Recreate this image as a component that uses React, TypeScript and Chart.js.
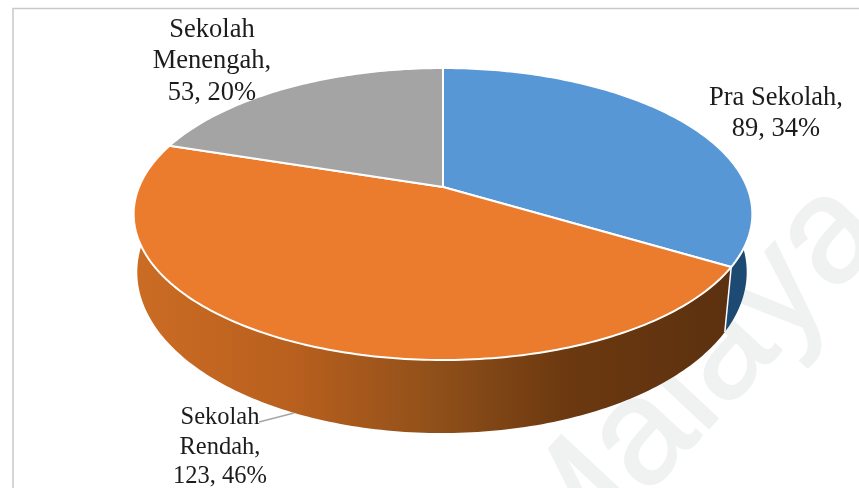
import React, { useEffect, useRef } from "react";
import { Chart, registerables } from "chart.js";

Chart.register(...registerables);

const categories = ["Pra Sekolah", "Sekolah Rendah", "Sekolah Menengah"];
const values = [89, 123, 53];
const faceColors = ["#5797d6", "#eb7c2e", "#a4a4a4"];
const labelLines = [["Pra Sekolah,"], ["Sekolah", "Rendah,"], ["Sekolah", "Menengah,"]];

// Projection of the unit disc onto the screen for the top and underside of the pie.
type Disc = { cx: number; apexY: number; b: number; a: number; k: number };
const topDisc: Disc = { cx: 443, apexY: 187, b: 304, a: 141, k: 0.185 };
const baseDisc: Disc = { cx: 442, apexY: 244, b: 300, a: 156, k: 0.175 };

const project = (d: Disc, angle: number): [number, number] => {
  const x = Math.cos(angle);
  const y = Math.sin(angle);
  const w = 1 - d.k * y;
  return [d.cx + (d.b * x) / w, d.apexY + (d.a * y) / w];
};

const traceArc = (ctx: CanvasRenderingContext2D, d: Disc, from: number, to: number) => {
  const steps = Math.max(8, Math.ceil(Math.abs(to - from) * 60));
  for (let i = 0; i <= steps; i++) {
    const [x, y] = project(d, from + ((to - from) * i) / steps);
    ctx.lineTo(x, y);
  }
};

const pie3d = {
  id: "pie3d",
  beforeDatasetsDraw(chart: Chart) {
    const ctx = chart.ctx;
    const arcs = chart.getDatasetMeta(0).data as any[];
    const total = values.reduce((s, v) => s + v, 0);

    // Watermark behind the chart
    ctx.save();
    ctx.translate(560, 588);
    ctx.rotate((-47 * Math.PI) / 180);
    ctx.font = '150px "Liberation Sans"';
    ctx.fillStyle = "#f0f1f1";
    ctx.strokeStyle = "#f0f1f1";
    ctx.lineWidth = 2;
    ctx.textBaseline = "alphabetic";
    ctx.fillText("Malaya", 0, 0);
    ctx.strokeText("Malaya", 0, 0);
    ctx.restore();

    // Frame
    ctx.strokeStyle = "#c9c9c9";
    ctx.lineWidth = 1.5;
    ctx.beginPath();
    ctx.moveTo(13, 488);
    ctx.lineTo(13, 8.5);
    ctx.lineTo(859, 8.5);
    ctx.stroke();

    // Outer wall, drawn first so the top face sits over it
    const wall = ctx.createLinearGradient(135, 0, 730, 0);
    wall.addColorStop(0, "#cb6c24");
    wall.addColorStop(0.26, "#b9601e");
    wall.addColorStop(0.5, "#91501a");
    wall.addColorStop(0.72, "#6c3910");
    wall.addColorStop(1, "#5c310f");
    const wallFill = ["#1d4a72", wall, "#6e6e6e"];
    [2, 0, 1].forEach((i) => {
      const { startAngle, endAngle } = arcs[i];
      ctx.beginPath();
      const [sx, sy] = project(topDisc, startAngle);
      ctx.moveTo(sx, sy);
      traceArc(ctx, topDisc, startAngle, endAngle);
      traceArc(ctx, baseDisc, endAngle, startAngle);
      ctx.closePath();
      ctx.fillStyle = wallFill[i];
      ctx.fill();
    });

    // White seam where the blue and orange walls meet
    const seam = arcs[0].endAngle;
    const [s0x, s0y] = project(topDisc, seam);
    const [s1x, s1y] = project(baseDisc, seam);
    ctx.strokeStyle = "#ffffff";
    ctx.lineWidth = 1.5;
    ctx.beginPath();
    ctx.moveTo(s0x, s0y);
    ctx.lineTo(s1x, s1y);
    ctx.stroke();

    // Top face
    arcs.forEach((arc, i) => {
      ctx.beginPath();
      ctx.moveTo(topDisc.cx, topDisc.apexY);
      traceArc(ctx, topDisc, arc.startAngle, arc.endAngle);
      ctx.closePath();
      ctx.fillStyle = faceColors[i];
      ctx.fill();
      ctx.strokeStyle = "#ffffff";
      ctx.lineWidth = 2;
      ctx.lineJoin = "round";
      ctx.stroke();
    });

    // Leader line for the lower label
    ctx.strokeStyle = "#a6a6a6";
    ctx.lineWidth = 1.5;
    ctx.beginPath();
    ctx.moveTo(259, 422);
    ctx.lineTo(294, 413);
    ctx.stroke();

    // Data labels
    const placement = [
      { x: 776, y: 98, size: 26.5, lead: 31 },
      { x: 220, y: 418, size: 24.5, lead: 29.5 },
      { x: 212, y: 30, size: 26.5, lead: 31.5 },
    ];
    ctx.fillStyle = "#1c1c1c";
    ctx.textAlign = "center";
    ctx.textBaseline = "middle";
    categories.forEach((_, i) => {
      const p = placement[i];
      const pct = Math.round((values[i] / total) * 100);
      const lines = [...labelLines[i], `${values[i]}, ${pct}%`];
      ctx.font = `${p.size}px "Liberation Serif"`;
      lines.forEach((line, n) => ctx.fillText(line, p.x, p.y + n * p.lead));
    });
    return false;
  },
};

export default function App() {
  const ref = useRef<HTMLCanvasElement>(null);
  useEffect(() => {
    const chart = new Chart(ref.current!, {
      type: "pie",
      data: {
        labels: categories,
        datasets: [{ data: values, backgroundColor: faceColors, borderColor: "#ffffff" }],
      },
      options: {
        responsive: false,
        animation: false,
        plugins: { legend: { display: false }, tooltip: { enabled: false } },
      },
      plugins: [pie3d],
    } as any);
    return () => chart.destroy();
  }, []);
  return (
    <canvas
      ref={ref}
      width={859}
      height={488}
      style={{ position: "fixed", left: 0, top: 0, display: "block", background: "#ffffff" }}
    />
  );
}
